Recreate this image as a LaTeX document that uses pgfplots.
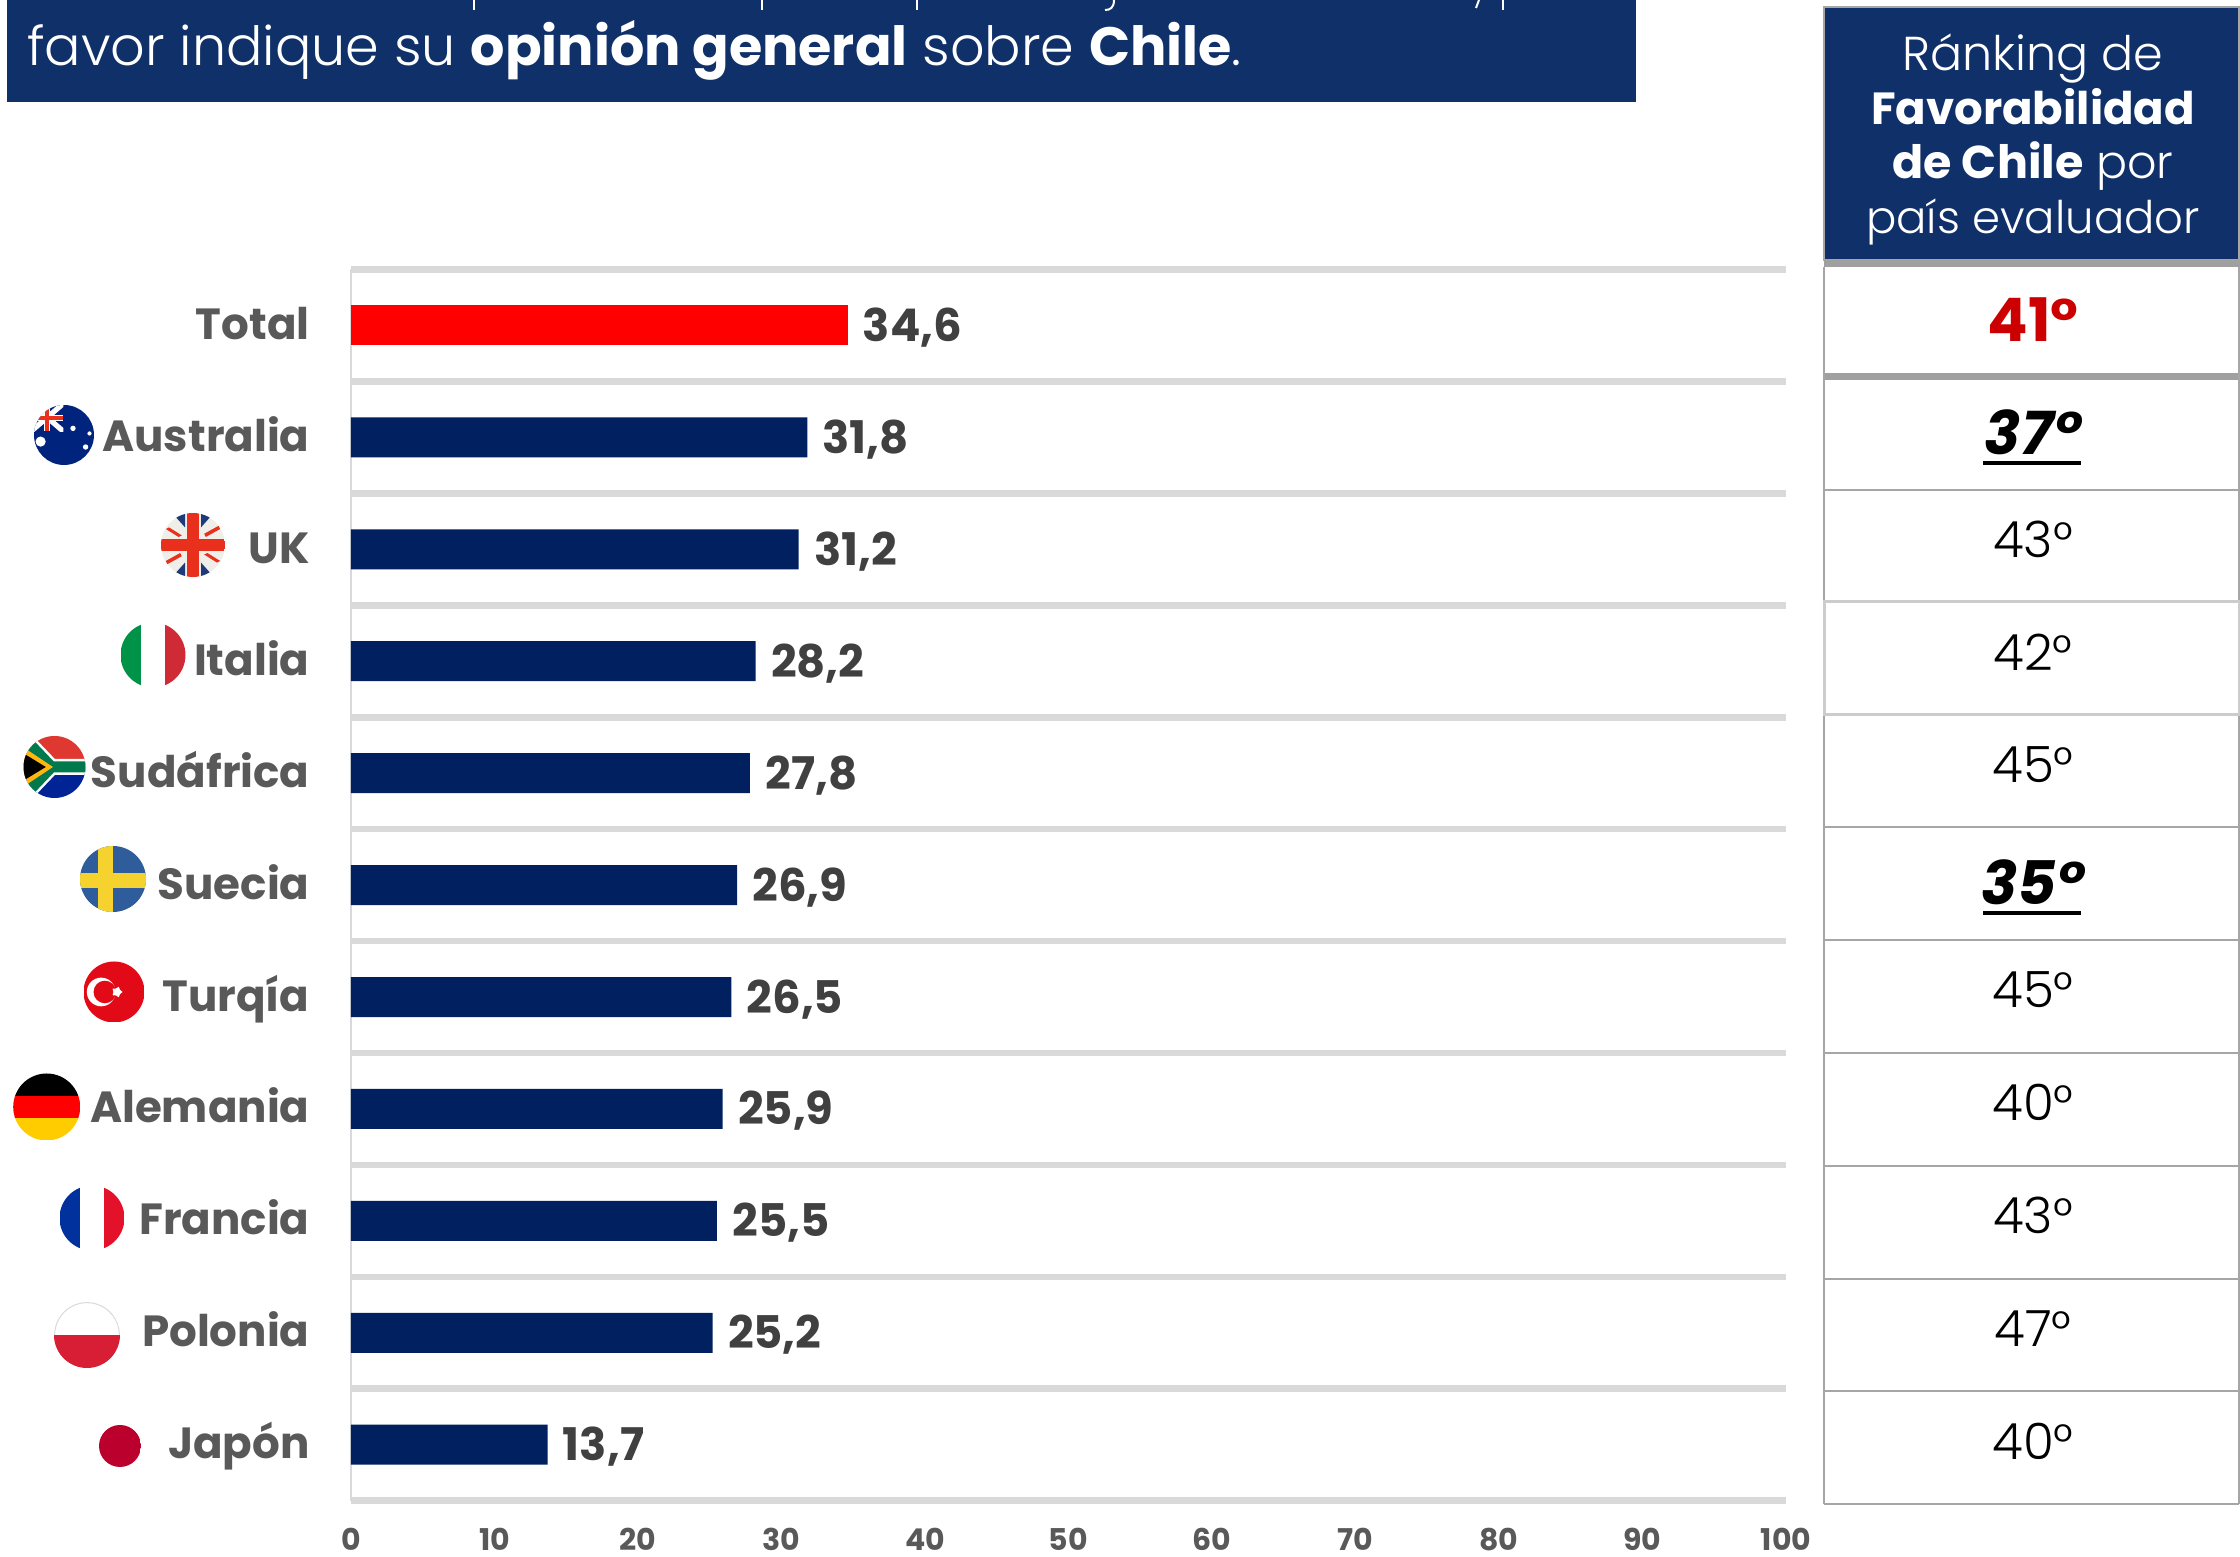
\documentclass[border=0pt]{standalone}
\usepackage{fontspec}
\usepackage{pgfplots}
\pgfplotsset{compat=1.18}
\usepackage{pgfplotstable}
\usetikzlibrary{shapes.geometric}
\setmainfont{Poppins}
\newfontfamily\lightf{Poppins Light}
\newfontfamily\semif{Poppins SemiBold}
\definecolor{bannerblue}{HTML}{0F3069}
\definecolor{barblue}{HTML}{002060}
\definecolor{gridg}{HTML}{D9D9D9}
\definecolor{catg}{HTML}{595959}
\definecolor{valg}{HTML}{404040}
\definecolor{cellg}{HTML}{A6A6A6}
\definecolor{thickg}{HTML}{A0A0A0}
\definecolor{lightcell}{HTML}{CCCCCC}
\definecolor{rankred}{HTML}{CC0000}
\definecolor{itgreen}{HTML}{009246}
\definecolor{itred}{HTML}{CE2B37}
\definecolor{sared}{HTML}{DE3831}
\definecolor{sablue}{HTML}{002395}
\definecolor{sagreen}{HTML}{007A4D}
\definecolor{sagold}{HTML}{FFB612}
\definecolor{seblue}{HTML}{2F5C9A}
\definecolor{seyel}{HTML}{F5D22E}
\definecolor{trred}{HTML}{E30A17}
\definecolor{degold}{HTML}{FFCC00}
\definecolor{frblue}{HTML}{00319C}
\definecolor{frred}{HTML}{E4112B}
\definecolor{plred}{HTML}{D81E34}
\definecolor{jpred}{HTML}{BC002D}
\definecolor{aublue}{HTML}{00247D}
\definecolor{ukblue}{HTML}{1F3A7A}
\definecolor{ukred}{HTML}{E8301C}
\definecolor{ukwhite}{HTML}{F0EEE8}
\pgfplotstableread{
y val
0 34.6
}\totaltable
\pgfplotstableread{
y val
1 31.8
2 31.2
3 28.2
4 27.8
5 26.9
6 26.5
7 25.9
8 25.5
9 25.2
10 13.7
}\countrytable
\newcommand\flag[4]{\begin{scope}[shift={(#1,#2)},scale=#3]\clip (0,0) circle[radius=1];#4\end{scope}}
\begin{document}
\begin{tikzpicture}
\path[use as bounding box] (0,0) rectangle (1120pt,778.5pt);
\begin{axis}[
  at={(175.5pt,28.15pt)}, anchor=south west,
  width=717.5pt, height=615.6pt, scale only axis,
  xmin=0, xmax=100, ymin=-0.5, ymax=10.5, y dir=reverse,
  xbar, bar width=20pt, clip=false,
  axis y line*=left, axis x line*=bottom,
  x axis line style={draw=none,-}, y axis line style={draw=gridg,line width=1pt,-},
  xtick={0,10,...,100}, ytick={0,...,10},
  yticklabels={Total,Australia,UK,Italia,Sudáfrica,Suecia,Turqía,Alemania,Francia,Polonia,Japón},
  major tick length=0pt,
  minor ytick={-0.5,0.5,...,10.5},
  ymajorgrids=false, yminorgrids=true,
  minor grid style={draw=gridg,line width=3.3pt},
  minor tick length=0pt,
  tick style={draw=none},
  /pgf/number format/assume math mode=true,
  xticklabel style={font=\bfseries\fontsize{15}{15}\selectfont,text=catg,anchor=base,yshift=-25pt,inner sep=0pt},
  yticklabel style={font=\bfseries\fontsize{21.8}{21.8}\selectfont,text=catg,anchor=base east,xshift=-20.5pt,yshift=-7pt,inner sep=0pt},
  point meta=x,
  nodes near coords,
  every node near coord/.append style={font=\bfseries\fontsize{22.5}{22.5}\selectfont,text=valg,anchor=base west,xshift=7.5pt,yshift=-8pt,inner sep=0pt,
     /pgf/number format/.cd,fixed,fixed zerofill,precision=1,use comma,assume math mode=true},
]
\addplot[bar shift=0pt,fill=red,draw=none] table[x=val,y=y] {\totaltable};
\addplot[bar shift=0pt,fill=barblue,draw=none] table[x=val,y=y] {\countrytable};
\end{axis}
\begin{scope}[x=0.5pt,y=-0.5pt,shift={(0pt,778.5pt)}]
% banner
\fill[bannerblue] (7,0) rectangle (1636,102);
\foreach \sx in {474,762,917,1503} \draw[white,line width=1pt] (\sx,0) -- (\sx,10);
\draw[white,line width=1pt] (1114,0) .. controls (1114,8) and (1110,10) .. (1105,10);
\draw[white,line width=1pt] (1479,0) -- (1476,8);
\node[anchor=base west,inner sep=0pt,text=white,font=\fontsize{27}{27}\selectfont] at (27,66) {{\lightf favor indique su }\textbf{opinión general}{\lightf{} sobre }\textbf{Chile}{\lightf .}};
% table
\fill[bannerblue] (1824,7) rectangle (2239,260);
\draw[cellg,line width=1pt] (1824,7) rectangle (2239,260);
\fill[thickg] (1824,260) rectangle (2240,267);
\fill[thickg] (1824,373.5) rectangle (2240,380.5);
\draw[cellg,line width=1pt] (1824,267) -- (1824,1504) (2239,267) -- (2239,1504);
\foreach \ly in {490,827.5,940.5,1053,1166,1278.6,1391.5,1504} \draw[cellg,line width=1pt] (1824,\ly) -- (2239,\ly);
\draw[lightcell,line width=1.5pt] (1824,602) rectangle (2239,715);
\begin{scope}[every node/.style={anchor=base,inner sep=0pt,text=white,font=\fontsize{22.5}{22.5}\selectfont}]
\node[font=\fontsize{23.8}{23.8}\selectfont] at (2033,71) {\lightf Ránking de};
\node at (2033,125) {\textbf{Favorabilidad}};
\node[font=\fontsize{23}{23}\selectfont] at (2033,179) {\textbf{de Chile}{\lightf{} por}};
\node at (2033,233.5) {\lightf país evaluador};
\end{scope}
\node[anchor=base,inner sep=0pt,text=rankred,font=\bfseries\fontsize{30}{30}\selectfont] at (2033,342) {41°};
\node[anchor=base,inner sep=0pt,font=\bfseries\itshape\fontsize{30}{30}\selectfont] at (2033,455) {37°};
\node[anchor=base,inner sep=0pt,font=\bfseries\itshape\fontsize{30}{30}\selectfont] at (2033,905) {35°};
\draw[black,line width=1.6pt] (1983,463) -- (2081,463) (1983,913) -- (2081,913);
\begin{scope}[every node/.style={anchor=base,inner sep=0pt,text=black,font=\lightf\fontsize{25}{25}\selectfont}]
\node at (2033,558) {43°};
\node at (2033,671) {42°};
\node at (2033,783) {45°};
\node at (2033,1008) {45°};
\node at (2033,1121) {40°};
\node at (2033,1234) {43°};
\node at (2033,1347) {47°};
\node at (2033,1460) {40°};
\end{scope}
% flags
\flag{64}{435}{30}{
  \fill[aublue] (-1,-1) rectangle (1,1);
  \begin{scope}
    \clip (-1.1,-1.1) rectangle (-0.02,-0.12);
    \draw[white,line width=2.6pt] (-1.1,-1.05) -- (-0.02,-0.12) (-0.02,-1.05) -- (-1.1,-0.12);
    \draw[white,line width=3.2pt] (-1.1,-0.56) -- (-0.02,-0.56) (-0.56,-1.1) -- (-0.56,-0.12);
    \draw[ukred,line width=1.8pt] (-1.1,-0.56) -- (-0.02,-0.56) (-0.56,-1.1) -- (-0.56,-0.12);
  \end{scope}
  \fill[white] (0.3,-0.22) circle[radius=0.09];
  \fill[white] (0.85,-0.05) circle[radius=0.07];
  \fill[white] (0.72,0.4) circle[radius=0.09];
  \fill[white] (-0.78,0.22) circle[radius=0.17];
}
\flag{193}{545}{32}{
  \fill[ukwhite] (-1,-1) rectangle (1,1);
  \fill[ukblue] (-0.65,-1) -- (-0.25,-1) -- (-0.25,-0.55) -- cycle;
  \fill[ukblue] (0.65,-1) -- (0.25,-1) -- (0.25,-0.55) -- cycle;
  \fill[ukblue] (-0.65,1) -- (-0.25,1) -- (-0.25,0.55) -- cycle;
  \fill[ukblue] (0.65,1) -- (0.25,1) -- (0.25,0.55) -- cycle;
  \fill[ukred] (-0.2,-1) rectangle (0.2,1);
  \fill[ukred] (-1,-0.2) rectangle (1,0.2);
  \fill[ukred] (-0.85,-0.5) -- (-0.75,-0.55) -- (-0.35,-0.3) -- (-0.45,-0.25) -- cycle;
  \fill[ukred] (0.85,-0.5) -- (0.8,-0.6) -- (0.35,-0.35) -- (0.4,-0.25) -- cycle;
  \fill[ukred] (-0.85,0.5) -- (-0.8,0.6) -- (-0.35,0.35) -- (-0.4,0.25) -- cycle;
  \fill[ukred] (0.85,0.5) -- (0.75,0.55) -- (0.35,0.3) -- (0.45,0.25) -- cycle;
}
\flag{153}{655}{32.5}{
  \fill[itgreen] (-1,-1) rectangle (-0.37,1);
  \fill[itred] (0.37,-1) rectangle (1,1);
}
\flag{54.5}{767}{31}{
  \fill[sared] (-1,-1) rectangle (1,0);
  \fill[sablue] (-1,0) rectangle (1,1);
  \draw[white,line width=8pt] (-1.1,-1.05) -- (-0.1,0) -- (1.1,0) (-1.1,1.05) -- (-0.1,0);
  \draw[sagreen,line width=5.5pt] (-1.1,-1.05) -- (-0.1,0) -- (1.1,0) (-1.1,1.05) -- (-0.1,0);
  \fill[sagold] (-1.1,-0.7) -- (-0.05,0) -- (-1.1,0.7) -- cycle;
  \fill[black] (-1.1,-0.5) -- (-0.28,0) -- (-1.1,0.5) -- cycle;
}
\flag{113}{879}{33}{
  \fill[seblue] (-1,-1) rectangle (1,1);
  \fill[seyel] (-0.45,-1) rectangle (0,1);
  \fill[seyel] (-1,-0.18) rectangle (1,0.27);
}
\flag{114}{992}{30.5}{
  \fill[trred] (-1,-1) rectangle (1,1);
  \fill[white] (-0.42,0) circle[radius=0.47];
  \fill[trred] (-0.3,0) circle[radius=0.37];
  \node[star,star points=5,fill=white,inner sep=0pt,minimum size=5.5pt,rotate=-90] at (0.1,0) {};
}
\flag{46.7}{1107}{33.5}{
  \fill[black] (-1,-1) rectangle (1,-0.33);
  \fill[red] (-1,-0.33) rectangle (1,0.33);
  \fill[degold] (-1,0.33) rectangle (1,1);
}
\flag{92}{1218}{32.5}{
  \fill[frblue] (-1,-1) rectangle (-0.37,1);
  \fill[frred] (0.38,-1) rectangle (1,1);
}
\flag{87}{1335}{33}{
  \draw[gray!30,line width=0.5pt] (0,0) circle[radius=0.98];
  \fill[plred] (-1,0) rectangle (1,1);
}
\flag{120}{1446}{21}{
  \fill[jpred] (-1,-1) rectangle (1,1);
}
\end{scope}
\end{tikzpicture}
\end{document}
